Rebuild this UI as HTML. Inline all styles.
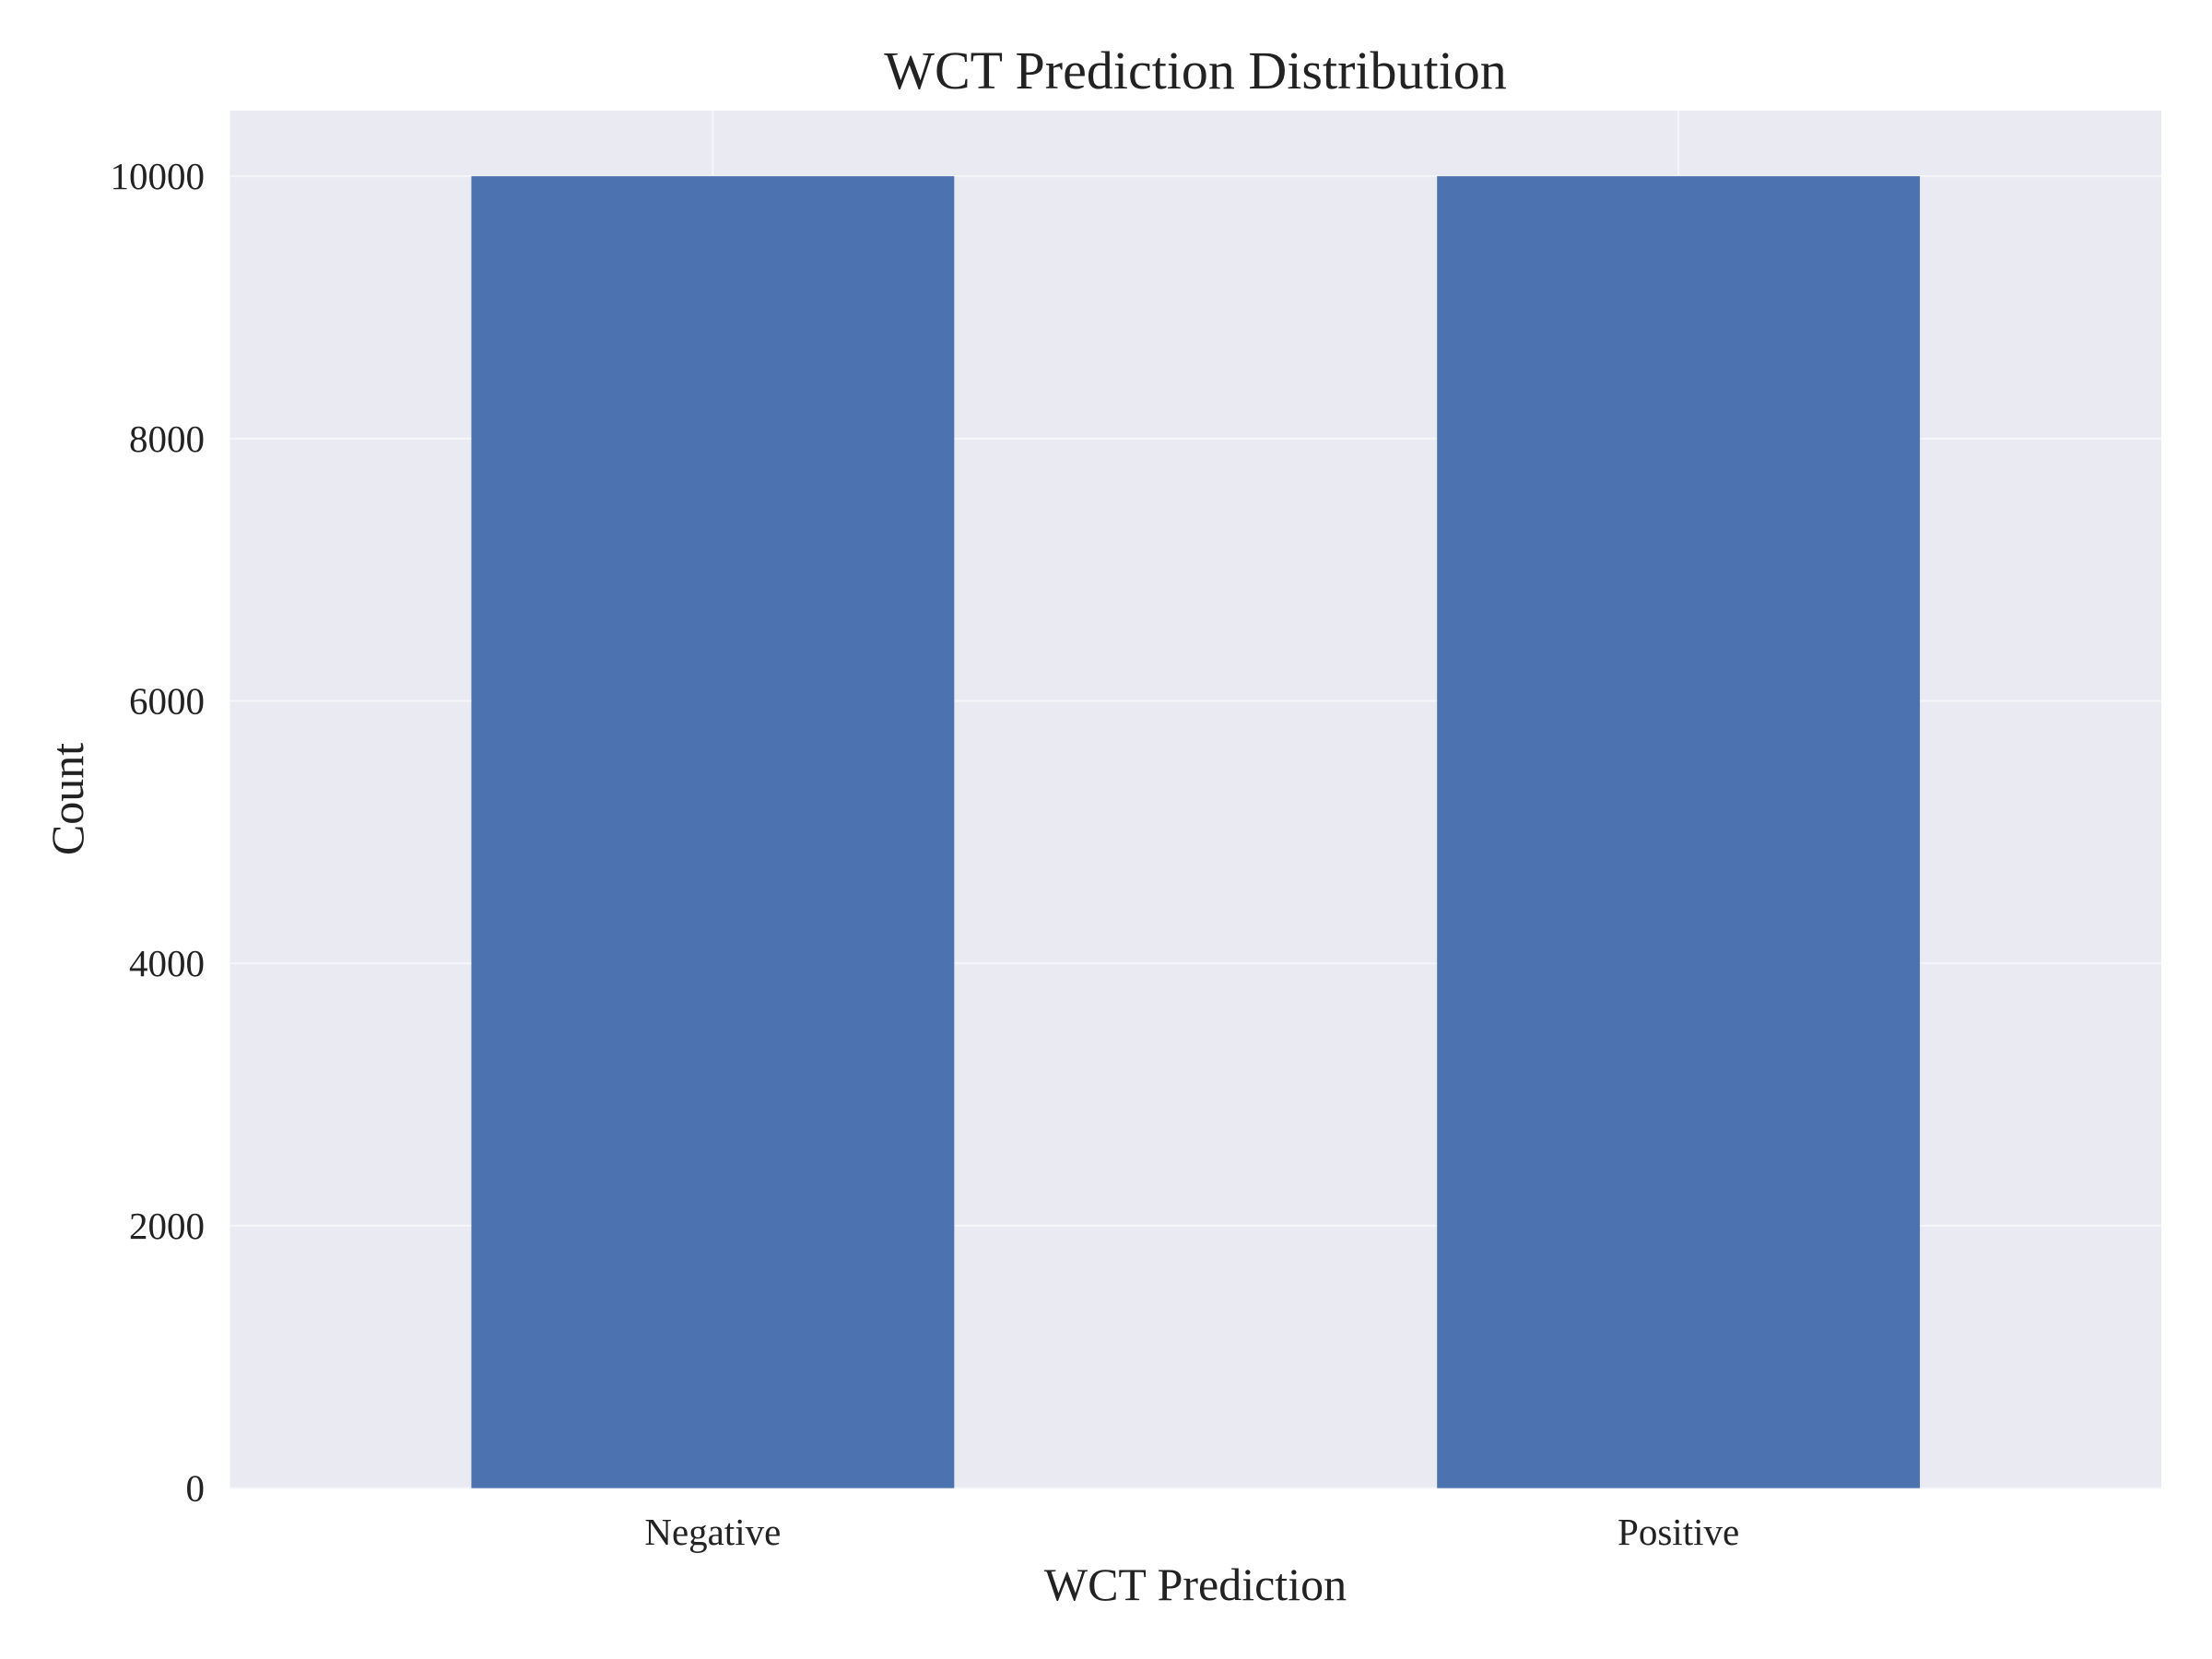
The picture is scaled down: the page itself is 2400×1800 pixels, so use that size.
<!DOCTYPE html>
<html><head><meta charset="utf-8">
<style>
html,body{margin:0;padding:0;background:#fff;}
svg{display:block;font-family:"Liberation Serif",serif;}
</style></head>
<body>
<svg id="chart" width="2400" height="1800" viewBox="0 0 2400 1800">
<rect x="249.5" y="120" width="2095.5" height="1494.6" fill="#eaeaf2"/>
<g id="grid"></g>
<g id="bars"></g>
<g id="ticks"></g>
<text x="1297" y="96" text-anchor="middle" font-size="58" fill="#222">WCT Prediction Distribution</text>
<text x="1297" y="1736" text-anchor="middle" font-size="50" fill="#222">WCT Prediction</text>
<text transform="translate(90,867) rotate(-90)" text-anchor="middle" font-size="50" fill="#222">Count</text>
</svg>
<script>
const categories = ["Negative","Positive"];
const counts = [10000, 10000];
const yTicks = [0, 2000, 4000, 6000, 8000, 10000];
const L=249.5,R=2345,T=120,B=1614.6, xMin=-0.5,xMax=1.5,yMin=0,yMax=10500;
const xs=v=>L+(v-xMin)/(xMax-xMin)*(R-L);
const ys=v=>B-(v-yMin)/(yMax-yMin)*(B-T);
const NS="http://www.w3.org/2000/svg";
const grid=document.getElementById('grid'),bars=document.getElementById('bars'),ticks=document.getElementById('ticks');
function mk(tag,attrs,parent){const e=document.createElementNS(NS,tag);for(const k in attrs)e.setAttribute(k,attrs[k]);parent.appendChild(e);return e;}
yTicks.forEach(v=>{
  const g=mk('line',{x1:L,x2:R,y1:ys(v),y2:ys(v),stroke:'#f6f6fa','stroke-width':2},grid);
  
  
  const t=mk('text',{x:222,y:ys(v)+14,'text-anchor':'end','font-size':41,fill:'#222'},ticks);
  t.textContent=v;
  
  
});
categories.forEach((c,i)=>{
  const g=mk('line',{x1:xs(i),x2:xs(i),y1:T,y2:B,stroke:'#f6f6fa','stroke-width':2},grid);
  
  
  const w=xs(0.25)-xs(-0.25);
  const b=mk('rect',{x:xs(i)-w/2,y:ys(counts[i]),width:w,height:ys(0)-ys(counts[i]),fill:'#4c72b0'},bars);
  
  
  const t=mk('text',{x:xs(i),y:1676,'text-anchor':'middle','font-size':41,fill:'#222'},ticks);
  t.textContent=c;
  
  
});
</script>
</body></html>
